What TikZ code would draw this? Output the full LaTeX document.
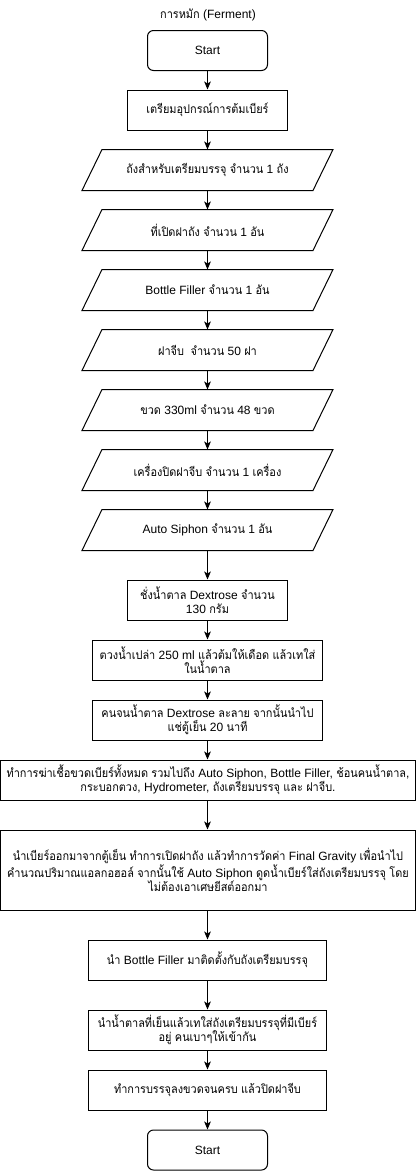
\documentclass[tikz,border=0pt]{standalone}
\usepackage{fontspec}
\setmainfont{Liberation Sans}
\newfontfamily\thaifont[Script=Thai,FakeStretch=0.91]{Loma}
\XeTeXinterchartokenstate=1
\newXeTeXintercharclass\thaiclass
\count255="0E00
\loop \XeTeXcharclass\count255=\thaiclass \ifnum\count255<"0E7F \advance\count255 by 1 \repeat
\XeTeXinterchartoks 0 \thaiclass = {\begingroup\thaifont}
\XeTeXinterchartoks 4095 \thaiclass = {\begingroup\thaifont}
\XeTeXinterchartoks \thaiclass 0 = {\endgroup}
\XeTeXinterchartoks \thaiclass 4095 = {\endgroup}
\usetikzlibrary{arrows.meta}
\tikzset{
  base/.style={font=\fontsize{9}{10.5}\selectfont, align=center, inner sep=0pt, line width=0.75pt},
  startbox/.style={base, draw, rounded corners=4.5pt, minimum width=90pt, minimum height=30pt},
  procbox/.style={base, draw, minimum height=30pt},
  iobox/.style={base, minimum width=157.5pt, minimum height=30pt},
  flow/.style={line width=0.75pt, -{Stealth[length=6pt,width=5pt,inset=1.5pt]}},
  para/.style={line width=0.75pt}
}
\begin{document}
\begin{tikzpicture}[x=0.75pt,y=-0.75pt]
\useasboundingbox (0,0) rectangle (417,1172);
\node[base] (title) at (208,15) {การหมัก (Ferment)};
\node[startbox] (s) at (207.5,50.5) {Start};
\node[procbox, minimum width=120pt] (b1) at (207.5,110) {เตรียมอุปกรณ์การต้มเบียร์};
\node[iobox] (p1) at (207.5,170) {ถังสำหรับเตรียมบรรจุ จำนวน 1 ถัง};
\node[iobox] (p2) at (207.5,230) {ที่เปิดฝาถัง จำนวน 1 อัน};
\node[iobox] (p3) at (207.5,290) {Bottle Filler จำนวน 1 อัน};
\node[iobox] (p4) at (207.5,350) {ฝาจีบ \ จำนวน 50 ฝา};
\node[iobox] (p5) at (207.5,410) {ขวด 330ml จำนวน 48 ขวด};
\node[iobox] (p6) at (207.5,470) {เครื่องปิดฝาจีบ จำนวน 1 เครื่อง};
\node[iobox] (p7) at (207.5,530) {Auto Siphon จำนวน 1 อัน};
\foreach \p in {p1,p2,p3,p4,p5,p6,p7}{
  \draw[para] (\p.north west) -- ([xshift=15pt]\p.north east) -- (\p.south east) -- ([xshift=-15pt]\p.south west) -- cycle;
}
\node[procbox, minimum width=120pt] (b2) at (207.5,600) {ชั่งน้ำตาล Dextrose จำนวน\\130 กรัม};
\node[procbox, minimum width=172.5pt] (b3) at (207.5,660) {ตวงน้ำเปล่า 250 ml แล้วต้มให้เดือด แล้วเทใส่\\ในน้ำตาล};
\node[procbox, minimum width=172.5pt] (b4) at (207.5,720) {คนจนน้ำตาล Dextrose ละลาย จากนั้นนำไป\\แช่ตู้เย็น 20 นาที};
\node[procbox, minimum width=311.5pt] (b5) at (208,780) {ทำการฆ่าเชื้อขวดเบียร์ทั้งหมด รวมไปถึง Auto Siphon, Bottle Filler, ช้อนคนน้ำตาล,\\กระบอกตวง, Hydrometer, ถังเตรียมบรรจุ และ ฝาจีบ.};
\node[procbox, minimum width=311.5pt, minimum height=60pt] (b6) at (208,870) {นำเบียร์ออกมาจากตู้เย็น ทำการเปิดฝาถัง แล้วทำการวัดค่า Final Gravity เพื่อนำไป\\คำนวณปริมาณแอลกอฮอล์ จากนั้นใช้ Auto Siphon ดูดน้ำเบียร์ใส่ถังเตรียมบรรจุ โดย\\ไม่ต้องเอาเศษยีสต์ออกมา};
\node[procbox, minimum width=179pt] (b7) at (207.5,960) {นำ Bottle Filler มาติดตั้งกับถังเตรียมบรรจุ};
\node[procbox, minimum width=179pt] (b8) at (207.5,1030) {นำน้ำตาลที่เย็นแล้วเทใส่ถังเตรียมบรรจุที่มีเบียร์\\อยู่ คนเบาๆให้เข้ากัน};
\node[procbox, minimum width=179pt] (b9) at (207.5,1090) {ทำการบรรจุลงขวดจนครบ แล้วปิดฝาจีบ};
\node[startbox] (e) at (207.5,1150) {Start};
\draw[flow] (s) -- (b1);
\draw[flow] (b1) -- (p1);
\draw[flow] (p1) -- (p2);
\draw[flow] (p2) -- (p3);
\draw[flow] (p3) -- (p4);
\draw[flow] (p4) -- (p5);
\draw[flow] (p5) -- (p6);
\draw[flow] (p6) -- (p7);
\draw[flow] (p7) -- (b2);
\draw[flow] (b2) -- (b3);
\draw[flow] (b3) -- (b4);
\draw[flow] (b4) -- (b4.south |- b5.north);
\draw[flow] (b5.south -| b4.south) -- (b4.south |- b6.north);
\draw[flow] (b6.south -| b7.north) -- (b7);
\draw[flow] (b7) -- (b8);
\draw[flow] (b8) -- (b9);
\draw[flow] (b9) -- (e);
\end{tikzpicture}
\end{document}
